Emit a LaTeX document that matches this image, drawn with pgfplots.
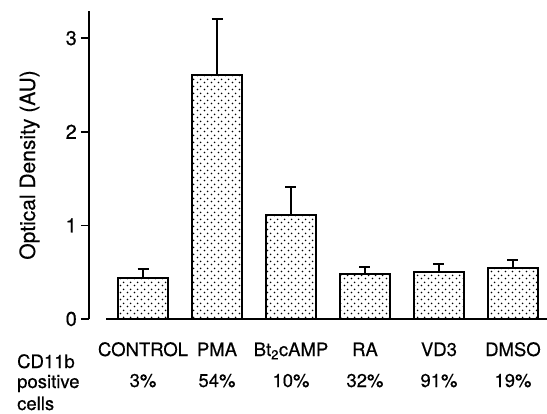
\documentclass[border=0pt]{standalone}
\usepackage{fontspec}
\setmainfont{TeX Gyre Heros}[FakeBold=0.4]
\usepackage{pgfplots}
\pgfplotsset{compat=1.18}
\usetikzlibrary{patterns.meta}
\tikzdeclarepattern{
  name=stipple,
  type=uncolored,
  bounding box={(0,0) and (7pt,7pt)},
  tile size={(7pt,7pt)},
  code={\fill (1.75pt,1.75pt) circle (1pt); \fill (5.25pt,5.25pt) circle (1pt);}
}
\begin{document}
\begin{tikzpicture}
\path[use as bounding box] (-89pt,-94pt) rectangle (458pt,319pt);
\begin{axis}[
  at={(0,0)}, anchor=south west,
  width=458pt, height=308pt, scale only axis,
  xmin=-0.73, xmax=5.46, ymin=0, ymax=3.29,
  axis lines=left,
  axis line style={-},
  x axis line style={draw=none},
  y axis line style={line width=1.5pt},
  clip=false,
  ytick={0,1,2,3},
  xtick={0,1,2,3,4,5},
  xticklabels={CONTROL, PMA, Bt\textsubscript{2}cAMP, RA, VD3, DMSO},
  x tick style={draw=none},
  y tick style={line width=1.5pt, black},
  major tick length=8pt,
  tick align=outside,
  /pgf/number format/assume math mode=true,
  xticklabel style={font=\fontsize{18.5}{20}\selectfont, anchor=base, yshift=-29pt},
  yticklabel style={font=\fontsize{20}{22}\selectfont, inner sep=0pt, xshift=-4pt},
  ylabel={Optical Density (AU)},
  ylabel style={at={(axis description cs:-0.13,0.5)}, anchor=center, font=\fontsize{21}{23}\selectfont},
]
\addplot[ybar, bar width=50pt, draw=black, line width=1.6pt,
  pattern={stipple}, pattern color=black,
  error bars/.cd, y dir=plus, y explicit,
  error bar style={line width=1.5pt, black},
  error mark options={rotate=90, mark size=5.5pt, line width=1.5pt, black}]
  coordinates {
    (0,0.438) +- (0,0.096)
    (1,2.607) +- (0,0.598)
    (2,1.111) +- (0,0.299)
    (3,0.481) +- (0,0.075)
    (4,0.502) +- (0,0.086)
    (5,0.545) +- (0,0.085)
  };
\draw[line width=1.5pt] (axis cs:-0.5,0) -- (axis cs:5.46,0);
\begin{scope}[every node/.style={font=\fontsize{18.5}{20}\selectfont}]
\node[anchor=base, yshift=-68pt] at (axis cs:0,0) {3\%};
\node[anchor=base, yshift=-68pt] at (axis cs:1,0) {54\%};
\node[anchor=base, yshift=-68pt] at (axis cs:2,0) {10\%};
\node[anchor=base, yshift=-68pt] at (axis cs:3,0) {32\%};
\node[anchor=base, yshift=-68pt] at (axis cs:4,0) {91\%};
\node[anchor=base, yshift=-68pt] at (axis cs:5,0) {19\%};
\node[anchor=base west, inner sep=0pt, xshift=-72pt, yshift=-49pt] at (axis cs:-0.73,0) {CD11b};
\node[anchor=base west, inner sep=0pt, xshift=-72pt, yshift=-69pt] at (axis cs:-0.73,0) {positive};
\node[anchor=base west, inner sep=0pt, xshift=-72pt, yshift=-91pt] at (axis cs:-0.73,0) {cells};
\end{scope}
\end{axis}
\end{tikzpicture}
\end{document}
